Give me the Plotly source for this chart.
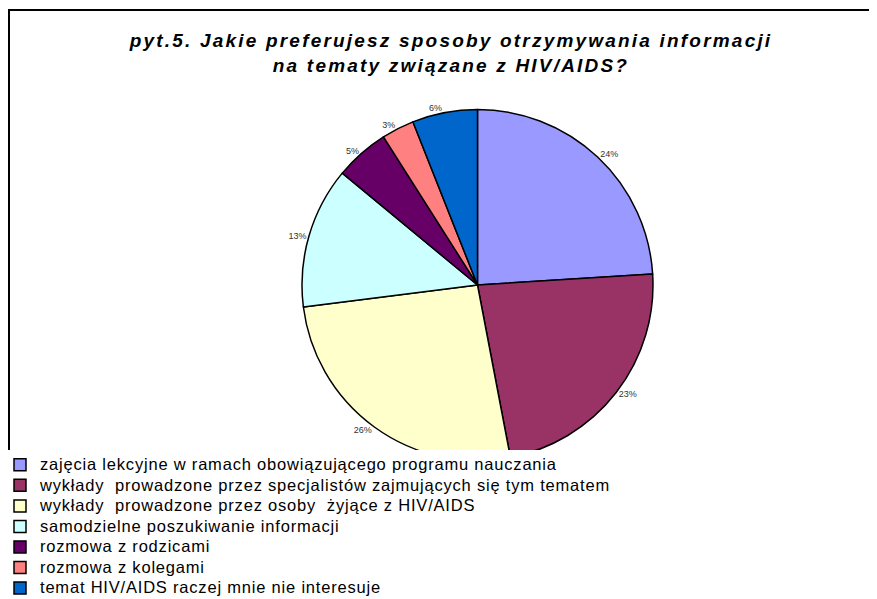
"""Pie chart: preferred ways of receiving HIV/AIDS information (pyt.5)."""

import plotly.graph_objects as go

# Data
answers = [
    'zajęcia lekcyjne w ramach obowiązującego programu nauczania',
    'wykłady  prowadzone przez specjalistów zajmujących się tym tematem',
    'wykłady  prowadzone przez osoby  żyjące z HIV/AIDS',
    'samodzielne poszukiwanie informacji',
    'rozmowa z rodzicami',
    'rozmowa z kolegami',
    'temat HIV/AIDS raczej mnie nie interesuje',
]
shares = [24, 23, 26, 13, 5, 3, 6]
slice_colors = ['#9999FF', '#993366', '#FFFFCC', '#CCFFFF', '#660066', '#FF8080', '#0066CC']

W, H = 877, 599
# the page body adds an 8px margin, so positions are given in window pixels minus this
OFF = 8

# Pie geometry (window pixels)
cx, cy, r = 477.5 - OFF, 285 - OFF, 175.5

# Legend row spacing follows legend.font.size; the visible label text is set larger
# and slightly letter-spaced, like the original (Excel) rendering
legend_labels = [
    f'<span style="font-size:16.5px;letter-spacing:0.8px">{a}</span>' for a in answers
]

title_style = 'letter-spacing:2.2px'
title_text = (
    f'<span style="{title_style}"><b><i>pyt.5. Jakie preferujesz sposoby otrzymywania informacji'
    f'</i></b></span><br><span style="{title_style}"><b><i>na tematy związane z HIV/AIDS?</i></b></span>'
)

fig = go.Figure(go.Pie(
    labels=legend_labels,
    values=shares,
    sort=False,
    direction='clockwise',
    rotation=0,
    marker=dict(colors=slice_colors, line=dict(color='black', width=1.5)),
    textinfo='percent',
    textposition='outside',
    texttemplate='%{percent:.0%}',
    outsidetextfont=dict(family='Liberation Sans, Arial', size=9, color='#333333'),
    customdata=answers,
    hovertemplate='%{customdata}<br>%{percent:.0%}<extra></extra>',
    domain=dict(
        x=[(cx - r) / W, (cx + r) / W],
        y=[(H - cy - r) / H, (H - cy + r) / H],
    ),
))

fig.update_layout(
    width=W,
    height=H,
    margin=dict(l=0, r=0, t=0, b=0, autoexpand=False),
    paper_bgcolor='white',
    plot_bgcolor='white',
    font=dict(family='Liberation Sans, Arial', color='black'),
    title=dict(
        text=title_text,
        font=dict(family='Liberation Sans, Arial', size=19, color='black'),
        x=(451 - OFF) / W,
        xanchor='center',
        xref='paper',
        y=1 - (47 - OFF) / H,
        yanchor='top',
        yref='container',
    ),
    showlegend=True,
    legend=dict(
        x=-OFF / W,
        xanchor='left',
        y=(H - (449.5 - OFF)) / H,
        yanchor='top',
        bgcolor='white',
        borderwidth=0,
        font=dict(family='Liberation Sans, Arial', size=13.5, color='black'),
        itemclick=False,
        itemdoubleclick=False,
    ),
    shapes=[dict(
        type='rect',
        xref='paper', yref='paper',
        x0=1 / W, x1=1.05,
        y0=-0.05, y1=(H - (10 - OFF)) / H,
        line=dict(color='black', width=2),
        layer='above',
    )],
)

fig.write_html("out.html")
